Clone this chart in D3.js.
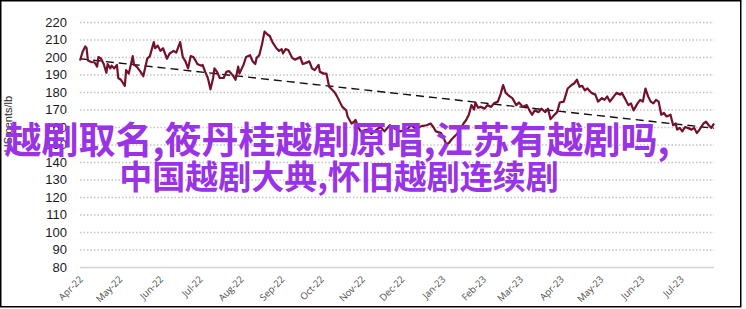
<!DOCTYPE html>
<html>
<head>
<meta charset="utf-8">
<script src="https://cdn.jsdelivr.net/npm/d3@7"></script>
<style>
  body { margin: 0; background: #fff; }
</style>
</head>
<body>
<div id="chart"></div>
<script>
// price series
const dates = [
  "2022-04-01","2022-04-03","2022-04-05","2022-04-06","2022-04-07","2022-04-10","2022-04-12","2022-04-14","2022-04-15","2022-04-17",
  "2022-04-19","2022-04-21","2022-04-22","2022-04-24","2022-04-25","2022-04-27","2022-04-29","2022-04-30","2022-05-02","2022-05-05",
  "2022-05-06","2022-05-08","2022-05-10","2022-05-11","2022-05-12","2022-05-14","2022-05-17","2022-05-19","2022-05-22","2022-05-24",
  "2022-05-27","2022-05-28","2022-05-30","2022-06-01","2022-06-03","2022-06-06","2022-06-08","2022-06-11","2022-06-13","2022-06-14",
  "2022-06-16","2022-06-18","2022-06-20","2022-06-22","2022-06-24","2022-06-26","2022-06-28","2022-06-29","2022-07-02","2022-07-03",
  "2022-07-05","2022-07-07","2022-07-09","2022-07-11","2022-07-12","2022-07-14","2022-07-16","2022-07-19","2022-07-21","2022-07-23",
  "2022-07-26","2022-07-28","2022-07-30","2022-07-31","2022-08-03","2022-08-05","2022-08-08","2022-08-10","2022-08-12","2022-08-13",
  "2022-08-15","2022-08-17","2022-08-19","2022-08-21","2022-08-23","2022-08-25","2022-08-28","2022-08-30","2022-09-01","2022-09-02",
  "2022-09-04","2022-09-06","2022-09-09","2022-09-11","2022-09-14","2022-09-15","2022-09-17","2022-09-19","2022-09-22","2022-09-24",
  "2022-09-26","2022-09-29","2022-09-30","2022-10-03","2022-10-05","2022-10-07","2022-10-11","2022-10-13","2022-10-15","2022-10-17",
  "2022-10-20","2022-10-21","2022-10-24","2022-10-26","2022-10-27","2022-10-29","2022-10-31","2022-11-05","2022-11-08","2022-11-12",
  "2022-11-15","2022-11-18","2022-11-22","2022-11-26","2022-11-30","2022-12-05","2022-12-08","2022-12-12","2022-12-16","2022-12-20",
  "2022-12-23","2022-12-25","2022-12-27","2022-12-31","2023-01-02","2023-01-04","2023-01-06","2023-01-08","2023-01-12","2023-01-14",
  "2023-01-17","2023-01-19","2023-01-21","2023-01-23","2023-01-25","2023-01-26","2023-01-28","2023-01-30","2023-02-02","2023-02-04",
  "2023-02-07","2023-02-09","2023-02-12","2023-02-14","2023-02-16","2023-02-18","2023-02-21","2023-02-23","2023-02-26","2023-02-28",
  "2023-03-03","2023-03-06","2023-03-08","2023-03-10","2023-03-12","2023-03-15","2023-03-17","2023-03-20","2023-03-22","2023-03-24",
  "2023-03-27","2023-03-29","2023-03-31","2023-04-03","2023-04-05","2023-04-06","2023-04-09","2023-04-11","2023-04-13","2023-04-15",
  "2023-04-17","2023-04-19","2023-04-21","2023-04-24","2023-04-27","2023-04-29","2023-05-02","2023-05-04","2023-05-06","2023-05-08",
  "2023-05-11","2023-05-13","2023-05-16","2023-05-17","2023-05-20","2023-05-22","2023-05-24","2023-05-26","2023-05-29","2023-05-31",
  "2023-06-02","2023-06-04","2023-06-06","2023-06-08","2023-06-10","2023-06-12","2023-06-14","2023-06-16","2023-06-18","2023-06-20",
  "2023-06-23","2023-06-25","2023-06-27","2023-06-28","2023-06-30","2023-07-02","2023-07-04","2023-07-06","2023-07-09","2023-07-11",
  "2023-07-13","2023-07-15","2023-07-18","2023-07-20","2023-07-22","2023-07-24","2023-07-26"
];

const prices = [
  198, 203, 206, 205, 198, 197, 197, 194.5, 200, 199,
  196, 191, 196, 193.5, 195, 193.5, 195.5, 188, 187, 183.5,
  192.5, 190.5, 197, 200.5, 195.5, 194.5, 191.5, 189, 199, 200.5,
  208.5, 205, 206.5, 203.5, 205, 199, 202, 203.5, 202.5, 204.5,
  208.5, 200, 197.5, 193.5, 200.5, 200, 197.5, 196, 195, 195.5,
  191.5, 188, 181.5, 188, 193.5, 191.5, 188, 188, 191.5, 192,
  189.5, 187, 194.5, 190.5, 195.5, 200, 201, 197.5, 196, 199.5,
  201, 207, 214.5, 213, 212, 208.5, 205, 203.5, 204.5, 202,
  204.5, 204, 199.5, 198.5, 199.5, 200, 196, 196.5, 197.5, 193.5,
  192.5, 195.5, 191.5, 190.5, 190.5, 183, 180, 177.5, 174.5, 171.5,
  169.5, 166, 162, 163, 164, 160, 157.5, 158.5, 156, 158.5,
  160, 157.5, 161, 159, 157.5, 158.5, 161, 159, 160.5, 161,
  162, 160, 157.5, 156.5, 153.5, 150, 151, 153, 156, 158.5,
  162, 164, 167, 172.5, 170, 174, 171, 171.5, 170.5, 172.5,
  171.5, 173.5, 174.5, 178.5, 184, 179.5, 177.5, 176.5, 172.5, 174,
  171.5, 172.5, 169.5, 167, 169.5, 168.5, 170.5, 168.5, 170.5, 164.5,
  167, 168.5, 174, 174.5, 179.5, 182, 184, 185, 187, 183,
  183.5, 181, 182, 179.5, 178.5, 174.5, 176.5, 175.5, 177.5, 174.5,
  177.5, 179.5, 178.5, 179.5, 175.5, 172.5, 173.5, 169.5, 173.5, 175.5,
  174.5, 182, 177.5, 174.5, 173.5, 175.5, 174.5, 167, 168, 166,
  167, 161, 162, 158.5, 159.5, 157.5, 160, 159.5, 158.5, 159.5,
  156.5, 158.5, 162, 163, 161, 159.5, 162
];

// linear trend, two ends
const trendDates = ["2022-04-01", "2023-07-26"];
const trendValues = [199, 159.3];

const yTicks = [80, 90, 100, 110, 120, 130, 140, 150, 160, 170, 180, 190, 200, 210, 220];
const yLabel = "US cents/lb";
const titleLines = ["越剧取名,筱丹桂越剧原唱,江苏有越剧吗,", "中国越剧大典,怀旧越剧连续剧"];

const parseDate = d3.timeParse("%Y-%m-%d");
const data = dates.map((d, i) => ({ date: parseDate(d), value: prices[i] }));
const trend = trendDates.map((d, i) => ({ date: parseDate(d), value: trendValues[i] }));

const svg = d3.select("#chart")
  .append("svg")
  .attr("width", 746)
  .attr("height", 309)
  .style("display", "block");

// outer frame
svg.append("rect")
  .attr("x", 0.75)
  .attr("y", 0.75)
  .attr("width", 740)
  .attr("height", 306)
  .attr("fill", "#fff")
  .attr("stroke", "#000")
  .attr("stroke-width", 1.5);

const xScale = d3.scaleTime()
  .domain([parseDate("2022-04-01"), parseDate("2023-07-26")])
  .range([80, 714]);

const yScale = d3.scaleLinear()
  .domain([80, 220])
  .range([267, 22]);

// y axis + dotted grid
const yAxis = d3.axisLeft(yScale)
  .tickValues(yTicks)
  .tickSize(-(714 - 80))
  .tickPadding(12);

const yAxisGroup = svg.append("g")
  .attr("transform", "translate(80,0)")
  .call(yAxis);

yAxisGroup.select(".domain").remove();

yAxisGroup.selectAll(".tick line")
  .attr("stroke", "#c4c4c4")
  .attr("stroke-width", 1.3)
  .attr("stroke-dasharray", "1.5,2");

yAxisGroup.selectAll(".tick")
  .filter(d => d === 80)
  .select("line")
  .attr("stroke", "#d4d4d4")
  .attr("stroke-dasharray", null);

yAxisGroup.selectAll(".tick text")
  .attr("fill", "#1a1a1a")
  .attr("font-family", "Liberation Sans")
  .attr("font-size", 13)
  .attr("x", -13);

svg.append("text")
  .text(yLabel)
  .attr("transform", "translate(12,124) rotate(-90)")
  .attr("text-anchor", "middle")
  .attr("font-family", "Liberation Sans")
  .attr("font-size", 11)
  .attr("fill", "#262626");

// x axis
const xAxis = d3.axisBottom(xScale)
  .ticks(d3.timeMonth.every(1))
  .tickFormat(d3.timeFormat("%b-%y"))
  .tickSize(0)
  .tickPadding(0);

const xAxisGroup = svg.append("g")
  .attr("transform", "translate(0,267)")
  .call(xAxis);

xAxisGroup.select(".domain").remove();

xAxisGroup.selectAll(".tick text")
  .attr("fill", "#4d4d4d")
  .attr("font-family", "Open Sans")
  .attr("font-size", 9.5)
  .attr("text-anchor", "end")
  .attr("dy", 0)
  .attr("transform", "translate(3,13) rotate(-45)");

// trend line
const lineGenerator = d3.line()
  .x(d => xScale(d.date))
  .y(d => yScale(d.value));

svg.append("path")
  .datum(trend)
  .attr("d", lineGenerator)
  .attr("fill", "none")
  .attr("stroke", "#111")
  .attr("stroke-width", 1.4)
  .attr("stroke-dasharray", "8,5");

// price line
svg.append("path")
  .datum(data)
  .attr("d", lineGenerator)
  .attr("fill", "none")
  .attr("stroke", "#73102a")
  .attr("stroke-width", 2.2)
  .attr("stroke-linejoin", "round");

// overlay text
const title = svg.append("g");
title.selectAll("text")
  .data(titleLines)
  .join("text")
  .text(d => d)
  .attr("x", (d, i) => i === 0 ? 337 : 339)
  .attr("y", (d, i) => i === 0 ? 154 : 189)
  .attr("text-anchor", "middle")
  .attr("font-family", "Noto Sans CJK SC")
  .attr("font-weight", 700)
  .attr("font-size", (d, i) => i === 0 ? 37 : 33)
  .attr("fill", "#9a32e6");
</script>
</body>
</html>
